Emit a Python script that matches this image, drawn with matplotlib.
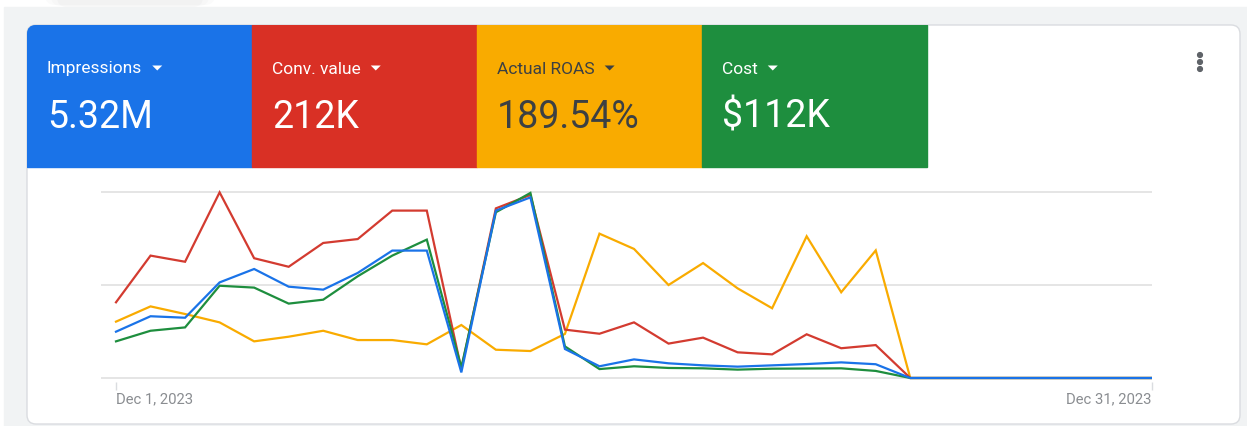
import matplotlib.pyplot as plt
import matplotlib.dates as mdates
from matplotlib.patches import FancyBboxPatch, Rectangle, Circle, Polygon
import pandas as pd

plt.rcParams['font.family'] = ['Roboto', 'DejaVu Sans']

# Daily values, Dec 1 - Dec 31 2023, each metric scaled to its own chart height (0-100)
dates = pd.date_range("2023-12-01", "2023-12-31", freq="D")
impressions = [24.9, 33.2, 32.4, 51.4, 58.6, 49.1, 47.5, 56.5, 68.5, 68.5, 3.0,
               90.0, 97.1, 15.6, 6.3, 10.0, 7.9, 6.8, 6.1, 6.8, 7.5, 8.4, 7.4,
               0, 0, 0, 0, 0, 0, 0, 0]
conv_value = [40.7, 65.8, 62.5, 99.8, 64.4, 59.8, 72.6, 74.7, 90.0, 90.0, 4.8,
              91.2, 98.4, 26.0, 23.8, 29.9, 18.5, 21.7, 13.8, 12.7, 23.5, 16.0, 17.7,
              0, 0, 0, 0, 0, 0, 0, 0]
actual_roas = [30.3, 38.5, 34.4, 29.9, 19.7, 22.2, 25.4, 20.4, 20.4, 18.1, 28.5,
               15.2, 14.5, 23.7, 77.6, 69.4, 50.0, 61.8, 48.2, 37.5, 76.2, 46.1, 68.6,
               0, 0, 0, 0, 0, 0, 0, 0]
cost = [19.7, 25.4, 27.2, 49.6, 48.6, 40.0, 42.1, 54.7, 65.8, 74.4, 5.7,
        89.1, 99.5, 17.0, 4.8, 6.3, 5.4, 5.2, 4.5, 5.0, 5.1, 5.2, 3.8,
        0, 0, 0, 0, 0, 0, 0, 0]

metric_names = ["Impressions", "Conv. value", "Actual ROAS", "Cost"]
metric_totals = ["5.32M", "212K", "189.54%", "$112K"]
metric_colors = ["#1a73e8", "#d93025", "#f9ab00", "#1e8e3e"]
metric_text = ["white", "white", "#3c4043", "white"]

W, H = 1247, 427
fig = plt.figure(figsize=(W / 100, H / 100), dpi=100)
renderer = fig.canvas.get_renderer()

# Page background and card, drawn in pixel coordinates
bg = fig.add_axes([0, 0, 1, 1])
bg.set_xlim(0, W)
bg.set_ylim(H, 0)
bg.axis("off")
bg.add_patch(Rectangle((4, 8), W, H, color="#f1f3f4", zorder=0))
# faint shadow of the card above
for i, a in enumerate([0.04, 0.04, 0.05]):
    bg.add_patch(FancyBboxPatch((45 + i * 6, -20), 170 - i * 12, 26 + i,
                                boxstyle="round,pad=0,rounding_size=10",
                                color="#9aa0a6", alpha=a, lw=0, zorder=1))
card = FancyBboxPatch((27, 26), 1213, 399, boxstyle="round,pad=0,rounding_size=9",
                      facecolor="white", edgecolor="#dadce0", lw=1, zorder=2)
bg.add_patch(card)

# Metric tiles
tile_w = 225
for i, (name, total, col, tc) in enumerate(zip(metric_names, metric_totals,
                                               metric_colors, metric_text)):
    x0 = 27 + i * tile_w
    tile = Rectangle((x0, 26), tile_w, 142, color=col, zorder=3)
    bg.add_patch(tile)
    tile.set_clip_path(card)
    t = bg.text(x0 + 20, 69, name, color=tc, fontsize=12.5,
                va="center", ha="left", zorder=4)
    # dropdown caret right after the label
    x_end = x0 + 20 + t.get_window_extent(renderer).width
    cx = x_end + 15
    bg.add_patch(Polygon([(cx - 5, 66.5), (cx + 5, 66.5), (cx, 71.5)],
                         closed=True, color=tc, lw=0, zorder=4))
    bg.text(x0 + 20, 117, total, color=tc, fontsize=27, va="center",
            ha="left", zorder=4)

# kebab menu
for yy in (56, 63, 70):
    bg.add_patch(Circle((1200, yy), 2.4, color="#5f6368", zorder=4))

# Line chart
px = 34.533  # pixels per day
y_lo, y_hi = -2, 102
ax_left, ax_right = 101, 1152
y_bot = 379 + 2 * 1.86
y_top = 193 - 2 * 1.86
ax = fig.add_axes([ax_left / W, (H - y_bot) / H,
                   (ax_right - ax_left) / W, (y_bot - y_top) / H])
ax.patch.set_alpha(0)
ax.set_zorder(5)

series = [(actual_roas, "#f9ab00"), (conv_value, "#d33b30"),
          (cost, "#1e8e3e"), (impressions, "#1a73e8")]
for vals, col in series:
    ax.plot(dates, vals, color=col, lw=1.6, solid_joinstyle="miter")

ax.set_xlim(dates[0] - pd.Timedelta(days=15 / px), dates[-1])
ax.set_ylim(y_lo, y_hi)
ax.set_yticks([0, 50, 100])
ax.yaxis.grid(True, color="#e3e3e3", lw=1.3)
ax.set_axisbelow(True)
ax.tick_params(axis="y", length=0, labelleft=False)
for s in ax.spines.values():
    s.set_visible(False)

ax.set_xticks([dates[0], dates[-1]])
ax.xaxis.set_major_formatter(mdates.DateFormatter("%b %-d, %Y"))
ax.tick_params(axis="x", length=5.5, width=1, color="#dadce0",
               labelcolor="#8a8d91", labelsize=10.7, pad=1.5)
labels = ax.get_xticklabels()
labels[0].set_ha("left")
labels[-1].set_ha("right")

fig.savefig("out.png", dpi=100)
